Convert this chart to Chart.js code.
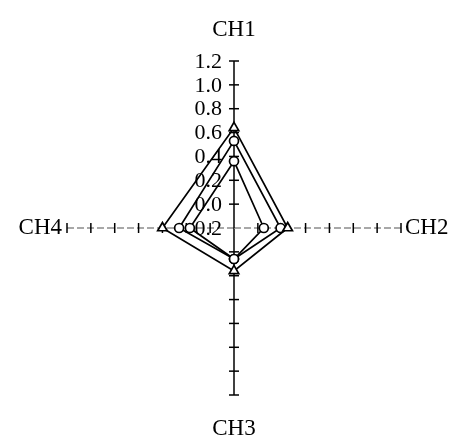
<!DOCTYPE html>
<html>
<head>
<meta charset="utf-8">
<script src="https://cdn.jsdelivr.net/npm/chart.js@4.4.1/dist/chart.umd.min.js"></script>
<style>
  html, body { margin: 0; padding: 0; background: #fff; }
  canvas { display: block; }
</style>
</head>
<body>
<canvas id="radar" width="457" height="440"></canvas>
<script>
const channels       = ['CH1', 'CH2', 'CH3', 'CH4'];
const seriesTriangle = [0.64, 0.25, 0.16, 0.40];
const seriesMid      = [0.53, 0.19, 0.06, 0.26];
const seriesInner    = [0.36, 0.05, 0.06, 0.17];
const tickValues     = [1.2, 1.0, 0.8, 0.6, 0.4, 0.2, 0.0, -0.2];

const SERIF = '"Liberation Serif", "DejaVu Serif", serif';

// name gap and text alignment for each spoke end (top, right, bottom, left)
const labelGap   = [20, 4, 22, 5];
const labelAlign = [['center', 'bottom'], ['left', 'middle'], ['center', 'top'], ['right', 'middle']];

// cross ticks on the spokes, value labels on CH1, channel names
const axisDecor = {
  id: 'axisDecor',
  beforeDatasetsDraw(chart) {
    const scale = chart.scales.r;
    const ctx = chart.ctx;
    ctx.save();
    ctx.setLineDash([]);
    ctx.strokeStyle = '#000';
    ctx.lineWidth = 1.5;
    channels.forEach((_, i) => {
      const a = scale.getIndexAngle(i) - Math.PI / 2;
      const nx = -Math.sin(a), ny = Math.cos(a);
      tickValues.forEach(v => {
        if (v === scale.min) return;
        const p = scale.getPointPositionForValue(i, v);
        ctx.beginPath();
        ctx.moveTo(p.x - nx * 5, p.y - ny * 5);
        ctx.lineTo(p.x + nx * 5, p.y + ny * 5);
        ctx.stroke();
      });
    });

    ctx.fillStyle = '#000';
    ctx.font = '22px ' + SERIF;
    ctx.textAlign = 'right';
    ctx.textBaseline = 'middle';
    tickValues.forEach(v => {
      const p = scale.getPointPositionForValue(0, v);
      ctx.fillText(v.toFixed(1), p.x - 12, p.y + 1);
    });

    ctx.font = '23px ' + SERIF;
    channels.forEach((name, i) => {
      const p = scale.getPointPosition(i, scale.drawingArea + labelGap[i]);
      ctx.textAlign = labelAlign[i][0];
      ctx.textBaseline = labelAlign[i][1];
      ctx.fillText(name, p.x, p.y);
    });
    ctx.restore();
  }
};

const lineStyle = {
  fill: false,
  borderColor: '#000',
  borderWidth: 1.7,
  pointBackgroundColor: '#fff',
  pointBorderColor: '#000',
  pointBorderWidth: 1.7
};

new Chart(document.getElementById('radar').getContext('2d'), {
  type: 'radar',
  data: {
    labels: channels,
    datasets: [
      { ...lineStyle, data: seriesTriangle, pointStyle: 'triangle', pointRadius: 5.5 },
      { ...lineStyle, data: seriesMid,      pointStyle: 'circle',   pointRadius: 4.5 },
      { ...lineStyle, data: seriesInner,    pointStyle: 'circle',   pointRadius: 4.5 }
    ]
  },
  options: {
    responsive: false,
    animation: false,
    plugins: { legend: { display: false }, tooltip: { enabled: false } },
    scales: {
      r: {
        min: -0.2,
        max: 1.2,
        ticks: { display: false, stepSize: 0.2 },
        grid: { display: false },
        pointLabels: { display: false },
        angleLines: {
          display: true,
          lineWidth: 1.5,
          color: c => (c.index % 2 ? '#8c8c8c' : '#000'),
          borderDash: c => (c.index % 2 ? [7, 3] : [])
        },
        afterFit(scale) {
          scale.xCenter = 234;
          scale.yCenter = 228;
          scale.drawingArea = 167;
        }
      }
    }
  },
  plugins: [axisDecor]
});
</script>
</body>
</html>
